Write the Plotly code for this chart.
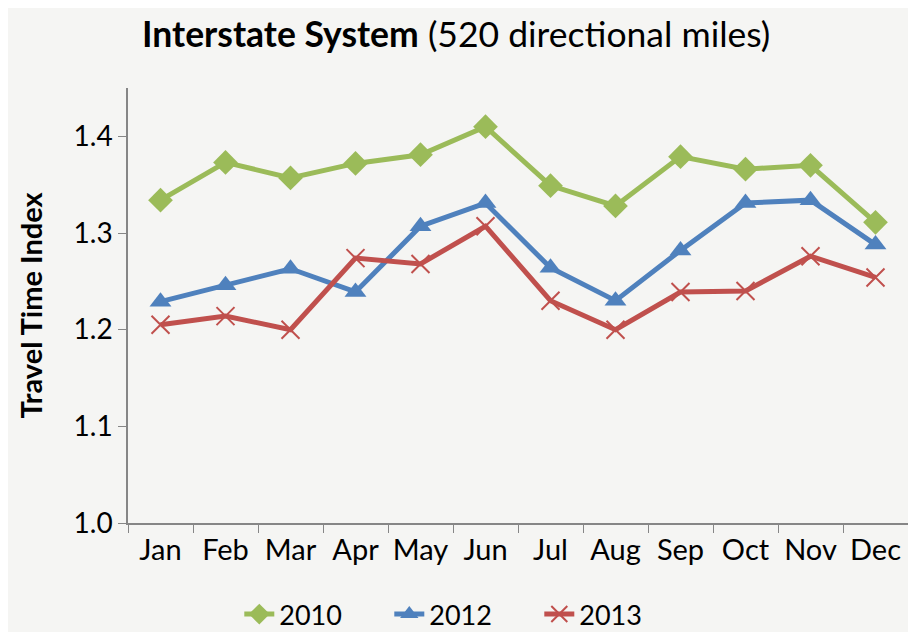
import plotly.graph_objects as go

months = ["Jan", "Feb", "Mar", "Apr", "May", "Jun", "Jul", "Aug", "Sep", "Oct", "Nov", "Dec"]
tti_2010 = [1.334, 1.373, 1.357, 1.372, 1.381, 1.410, 1.349, 1.328, 1.379, 1.366, 1.370, 1.311]
tti_2012 = [1.229, 1.246, 1.263, 1.239, 1.307, 1.331, 1.264, 1.230, 1.282, 1.331, 1.334, 1.288]
tti_2013 = [1.205, 1.214, 1.200, 1.274, 1.268, 1.307, 1.230, 1.200, 1.239, 1.240, 1.276, 1.254]
y_ticks = [1.0, 1.1, 1.2, 1.3, 1.4]

FONT = "Lato"
fig = go.Figure()
fig.add_trace(go.Scatter(x=months, y=tti_2010, name="2010", mode="lines+markers",
                         line=dict(color="#9bbb59", width=5),
                         marker=dict(symbol="diamond", size=19, color="#9bbb59")))
fig.add_trace(go.Scatter(x=months, y=tti_2012, name="2012", mode="lines+markers",
                         line=dict(color="#4f81bd", width=5),
                         marker=dict(symbol="triangle-up", size=19, color="#4f81bd")))
fig.add_trace(go.Scatter(x=months, y=tti_2013, name="2013", mode="lines+markers",
                         line=dict(color="#c0504d", width=5),
                         marker=dict(symbol="x-thin", size=18, color="#c0504d",
                                     line=dict(color="#c0504d", width=2))))

fig.update_layout(
    width=900, height=624,
    margin=dict(l=120, r=0, t=80, b=109),
    paper_bgcolor="#f5f5f3", plot_bgcolor="rgba(0,0,0,0)",
    font=dict(family=FONT, size=28, color="#000000"),
    title=dict(text="<b>Interstate System</b> (520 directional miles)",
               x=0.498, xref="container", xanchor="center", y=0.957, yanchor="middle",
               font=dict(family=FONT, size=35.5, color="#000000")),
    showlegend=True,
    legend=dict(orientation="h", xref="container", yref="container",
                x=0.507, xanchor="center", y=0.028, yanchor="middle",
                font=dict(size=27), bgcolor="rgba(0,0,0,0)",
                entrywidth=105, entrywidthmode="pixels"),
)
fig.update_xaxes(type="category", range=[-0.5, 11.5], tickson="boundaries",
                 ticks="outside", ticklen=8, tickcolor="#868686", automargin=False,
                 showline=True, linecolor="#868686", linewidth=1.5,
                 showgrid=False, zeroline=False, tickfont=dict(size=29))
fig.update_yaxes(range=[1.0, 1.45], tickvals=y_ticks, tickformat=".1f",
                 ticks="outside", ticklen=8, tickcolor="#868686", automargin=False,
                 showline=True, linecolor="#868686", linewidth=1.5,
                 showgrid=False, zeroline=False, tickfont=dict(size=28),
                 title=dict(text="<b>Travel Time Index</b>", font=dict(size=29), standoff=22))

fig.write_html("out.html")
